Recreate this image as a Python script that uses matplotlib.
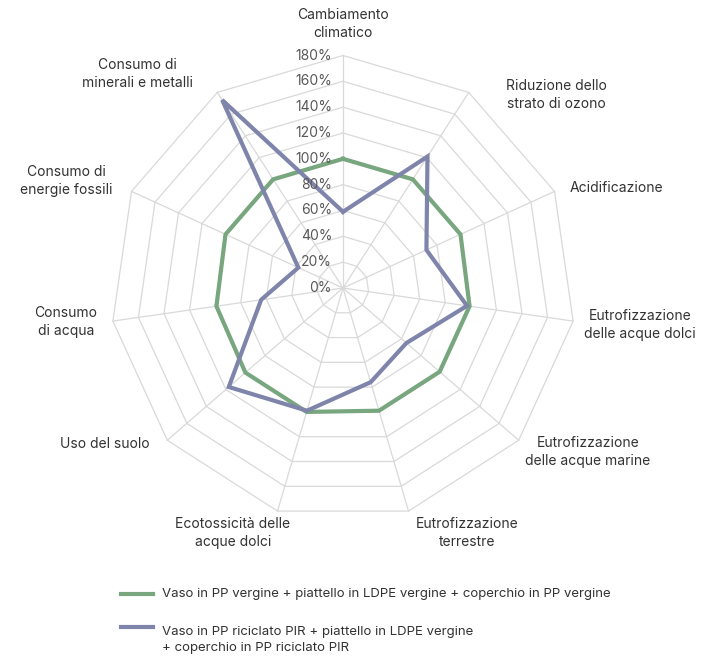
import matplotlib
matplotlib.use("Agg")
import matplotlib.pyplot as plt
from matplotlib.lines import Line2D
from matplotlib.transforms import offset_copy
import numpy as np

plt.rcParams['font.family'] = ['Inter', 'DejaVu Sans']

categories = [
    "Cambiamento\nclimatico",
    "Riduzione dello\nstrato di ozono",
    "Acidificazione",
    "Eutrofizzazione\ndelle acque dolci",
    "Eutrofizzazione\ndelle acque marine",
    "Eutrofizzazione\nterrestre",
    "Ecotossicità delle\nacque dolci",
    "Uso del suolo",
    "Consumo\ndi acqua",
    "Consumo di\nenergie fossili",
    "Consumo di\nminerali e metalli",
]
vergine = [100, 100, 100, 99, 99, 99, 100, 100, 99, 100, 100]
riciclato = [59, 121, 71, 97, 65, 76, 99, 117, 64, 38, 173]
ticks = [0, 20, 40, 60, 80, 100, 120, 140, 160, 180]
legend_labels = [
    "Vaso in PP vergine + piattello in LDPE vergine + coperchio in PP vergine",
    "Vaso in PP riciclato PIR + piattello in LDPE vergine\n+ coperchio in PP riciclato PIR",
]

green = "#78a67f"
purple = "#7f84ab"
grid_c = "#d9d9d9"
text_c = "#333333"

W, H = 718, 658
fig = plt.figure(figsize=(W / 100, H / 100), dpi=100)

cx, cy, R = 343, 288, 232.5
ax = fig.add_axes([(cx - R) / W, (H - cy - R) / H, 2 * R / W, 2 * R / H],
                  projection='polar')
ax.set_theta_offset(np.pi / 2)
ax.set_theta_direction(-1)
ax.set_ylim(0, 180)
ax.grid(False)
ax.spines['polar'].set_visible(False)
ax.set_xticks([])
ax.set_yticks([])

n = len(categories)
angles = np.linspace(0, 2 * np.pi, n, endpoint=False)
closed = np.append(angles, angles[0])

# polygon grid
for r in ticks[1:]:
    ax.plot(closed, [r] * (n + 1), color=grid_c, lw=0.9, clip_on=False, zorder=1)
for a in angles:
    ax.plot([a, a], [0, 180], color=grid_c, lw=0.9, clip_on=False, zorder=1)

ax.plot(closed, vergine + vergine[:1], color=green, lw=3, zorder=3,
        solid_joinstyle='miter', clip_on=False)
ax.plot(closed, riciclato + riciclato[:1], color=purple, lw=3, zorder=4,
        solid_joinstyle='miter', clip_on=False)

# radial tick labels
tr = offset_copy(ax.transData, fig=fig, x=-11, y=0, units='dots')
for t in ticks:
    ax.text(0, t, f"{t}%", transform=tr, ha='right', va='center',
            fontsize=10, color="#595959", zorder=5)

# category labels (pixel centres)
label_pos = [(343, 24), (556, 95), (616, 188), (640, 325), (588, 452),
             (467, 533), (233, 533), (105, 444), (66, 322), (66, 181), (137, 74)]
for lab, (px, py) in zip(categories, label_pos):
    fig.text(px / W, 1 - py / H, lab, ha='center', va='center',
             multialignment='center', fontsize=10, color=text_c, linespacing=1.45)

# legend
for (ly, ty), lab, col in zip([(594, 594), (627, 640)], legend_labels, [green, purple]):
    fig.add_artist(Line2D([121 / W, 153 / W], [1 - ly / H, 1 - ly / H],
                          color=col, lw=3, transform=fig.transFigure))
    fig.text(162 / W, 1 - ty / H, lab, ha='left', va='center', fontsize=9.5,
             color=text_c, linespacing=1.5)

fig.savefig("out.png", dpi=100)
